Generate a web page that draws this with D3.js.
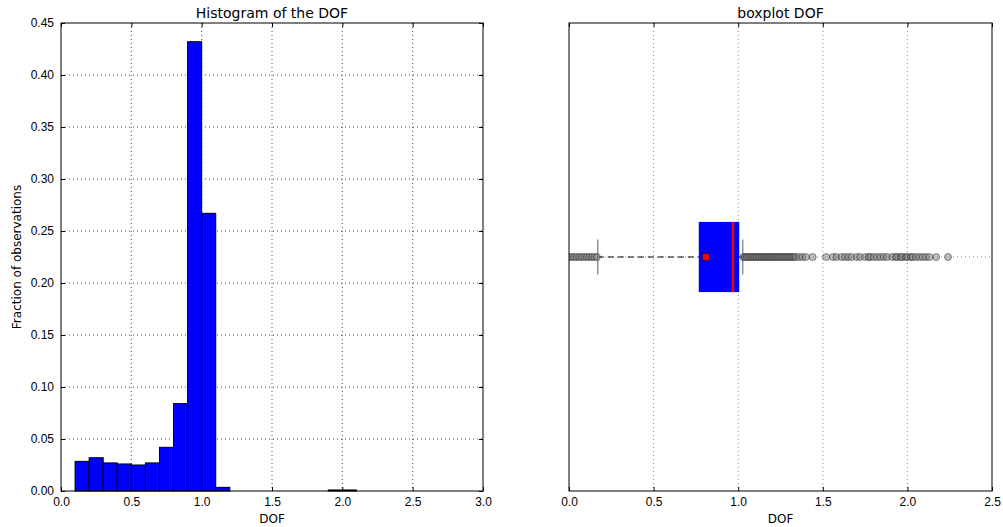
<!DOCTYPE html>
<html>
<head>
<meta charset="utf-8">
<title>DOF histogram and boxplot</title>
<script src="https://cdn.jsdelivr.net/npm/d3@7"></script>
<style>
	body { margin: 0; background: #fff; }
	svg { font-family: "DejaVu Sans", sans-serif; }
	.tick text { font-size: 12px; fill: #000; }
</style>
</head>
<body>
<svg width="1003" height="527" id="chart"></svg>
<script>
// histogram: bin starts (width 0.1) and fraction of observations
var binStarts = [0.1, 0.2, 0.3, 0.4, 0.5, 0.6, 0.7, 0.8, 0.9, 1.0, 1.1, 1.9, 2.0]
var binFractions = [0.0285, 0.032, 0.027, 0.026, 0.025, 0.027, 0.042, 0.084, 0.432, 0.267, 0.0035, 0.001, 0.001]
var binWidth = 0.1

var histXTicks = [0, 0.5, 1.0, 1.5, 2.0, 2.5, 3.0]
var histYTicks = [0, 0.05, 0.10, 0.15, 0.20, 0.25, 0.30, 0.35, 0.40, 0.45]
var boxXTicks = [0, 0.5, 1.0, 1.5, 2.0, 2.5]

// boxplot stats
var q1 = 0.767, median = 0.969, q3 = 1.006, mean = 0.81
var whiskerLow = 0.17, whiskerHigh = 1.027
var fliersLow = [0.0, 0.015, 0.03, 0.045, 0.06, 0.075, 0.09, 0.105, 0.12, 0.135, 0.15, 0.165]
var fliersHigh = [1.03, 1.04, 1.05, 1.06, 1.07, 1.08, 1.09, 1.10, 1.11, 1.12, 1.13, 1.14, 1.15, 1.16,
	1.17, 1.18, 1.19, 1.20, 1.21, 1.22, 1.23, 1.24, 1.25, 1.26, 1.27, 1.28, 1.29, 1.30, 1.31, 1.32,
	1.33, 1.34, 1.36, 1.38, 1.40, 1.44, 1.52, 1.56, 1.58, 1.61, 1.63, 1.65, 1.67, 1.70, 1.72, 1.75,
	1.77, 1.78, 1.80, 1.82, 1.84, 1.86, 1.88, 1.91, 1.93, 1.94, 1.96, 1.97, 1.99, 2.00, 2.02, 2.03,
	2.05, 2.07, 2.09, 2.11, 2.13, 2.17, 2.24]

var svg = d3.select('#chart')
var top_y = 23, bottom_y = 491

// draws frame, grid, inside ticks on all sides
function drawFrame(g, x, y, xTicks, yTicks, fmtX, fmtY, showY, gridOpacity) {
	var x0 = x.range()[0], x1 = x.range()[1]
	// grid
	g.append('g').selectAll('line').data(xTicks.slice(1, -1)).enter().append('line')
		.attr('x1', function(d) { return x(d) }).attr('x2', function(d) { return x(d) })
		.attr('y1', top_y).attr('y2', bottom_y)
		.attr('stroke', '#000').attr('stroke-opacity', gridOpacity).attr('stroke-dasharray', '1,3')
	g.append('g').selectAll('line').data(yTicks.slice(1, -1)).enter().append('line')
		.attr('y1', function(d) { return y(d) }).attr('y2', function(d) { return y(d) })
		.attr('x1', x0).attr('x2', x1)
		.attr('stroke', '#000').attr('stroke-opacity', gridOpacity).attr('stroke-dasharray', '1,3')

	g.append('g').attr('transform', 'translate(0,' + bottom_y + ')')
		.call(d3.axisBottom(x).tickValues(xTicks).tickFormat(fmtX).tickSizeInner(-4).tickSizeOuter(0).tickPadding(6))
		.call(function(a) { a.select('.domain').remove() })
	g.append('g').attr('transform', 'translate(0,' + top_y + ')')
		.call(d3.axisTop(x).tickValues(xTicks).tickFormat('').tickSizeInner(-4).tickSizeOuter(0))
		.call(function(a) { a.select('.domain').remove() })
	if (showY) {
		g.append('g').attr('transform', 'translate(' + x0 + ',0)')
			.call(d3.axisLeft(y).tickValues(yTicks).tickFormat(fmtY).tickSizeInner(-4).tickSizeOuter(0).tickPadding(7))
			.call(function(a) { a.select('.domain').remove() })
		g.append('g').attr('transform', 'translate(' + x1 + ',0)')
			.call(d3.axisRight(y).tickValues(yTicks).tickFormat('').tickSizeInner(-4).tickSizeOuter(0))
			.call(function(a) { a.select('.domain').remove() })
	}
}

function drawBorder(g, x) {
	var x0 = x.range()[0], x1 = x.range()[1]
	g.append('rect').attr('x', x0).attr('y', top_y).attr('width', x1 - x0).attr('height', bottom_y - top_y)
		.attr('fill', 'none').attr('stroke', '#000').attr('stroke-width', 1)
}

// ---- left: histogram ----
var hx = d3.scaleLinear().domain([0, 3]).range([61, 483])
var hy = d3.scaleLinear().domain([0, 0.45]).range([bottom_y, top_y])
var left = svg.append('g')

var histData = binStarts.map(function(s, i) { return {start: s, frac: binFractions[i]} })
drawFrame(left, hx, hy, histXTicks, histYTicks, d3.format('.1f'), d3.format('.2f'), true, 0.7)

left.append('g').selectAll('rect').data(histData).enter().append('rect')
	.attr('x', function(d) { return hx(d.start) })
	.attr('y', function(d) { return hy(d.frac) })
	.attr('width', function(d) { return hx(d.start + binWidth) - hx(d.start) })
	.attr('height', function(d) { return hy(0) - hy(d.frac) })
	.attr('fill', '#0000ff').attr('stroke', '#000').attr('stroke-width', 1)
drawBorder(left, hx)

left.append('text').attr('x', (61 + 483) / 2).attr('y', 18).attr('text-anchor', 'middle')
	.attr('font-size', 14).text('Histogram of the DOF')
left.append('text').attr('x', (61 + 483) / 2).attr('y', 523).attr('text-anchor', 'middle')
	.attr('font-size', 12).text('DOF')
left.append('text').attr('transform', 'translate(21,' + ((top_y + bottom_y) / 2) + ') rotate(-90)')
	.attr('text-anchor', 'middle').attr('font-size', 12).text('Fraction of observations')

// ---- right: boxplot ----
var bx = d3.scaleLinear().domain([0, 2.5]).range([569, 992])
var by = d3.scaleLinear().domain([1.5, 0.5]).range([bottom_y, top_y])
var right = svg.append('g')
drawFrame(right, bx, by, boxXTicks, [0.5, 1, 1.5], d3.format('.1f'), null, false, 0.45)

svg.append('clipPath').attr('id', 'box-clip').append('rect')
	.attr('x', bx(0)).attr('y', top_y).attr('width', bx(2.5) - bx(0)).attr('height', bottom_y - top_y)
var plot = right.append('g').attr('clip-path', 'url(#box-clip)')

var half = 0.075
// whiskers
plot.append('line').attr('x1', bx(whiskerLow)).attr('x2', bx(q1)).attr('y1', by(1)).attr('y2', by(1))
	.attr('stroke', '#000').attr('stroke-dasharray', '6,4')
plot.append('line').attr('x1', bx(q3)).attr('x2', bx(whiskerHigh)).attr('y1', by(1)).attr('y2', by(1))
	.attr('stroke', '#000').attr('stroke-dasharray', '6,4')
// box
plot.append('rect').attr('x', bx(q1)).attr('y', by(1 - half))
	.attr('width', bx(q3) - bx(q1)).attr('height', by(1 + half) - by(1 - half))
	.attr('fill', '#0000ff')
// caps
plot.selectAll('.cap').data([whiskerLow, whiskerHigh]).enter().append('line')
	.attr('x1', function(d) { return bx(d) }).attr('x2', function(d) { return bx(d) })
	.attr('y1', by(1 - half / 2)).attr('y2', by(1 + half / 2))
	.attr('stroke', '#777').attr('stroke-width', 1.2)
// fliers
plot.append('g').selectAll('circle').data(fliersLow.concat(fliersHigh)).enter().append('circle')
	.attr('cx', function(d) { return bx(d) }).attr('cy', by(1)).attr('r', 3.5)
	.attr('fill', '#808080').attr('fill-opacity', 0.5)
	.attr('stroke', '#000').attr('stroke-opacity', 0.5).attr('stroke-width', 0.8)
// median
plot.append('line').attr('x1', bx(median)).attr('x2', bx(median))
	.attr('y1', by(1 - half)).attr('y2', by(1 + half))
	.attr('stroke', '#ff0000').attr('stroke-width', 2.5)
// mean
plot.append('rect').attr('x', bx(mean) - 3.5).attr('y', by(1) - 3.5).attr('width', 7).attr('height', 7)
	.attr('fill', '#ff0000').attr('stroke', '#000').attr('stroke-width', 0.5)
drawBorder(right, bx)

right.append('text').attr('x', (569 + 992) / 2).attr('y', 18).attr('text-anchor', 'middle')
	.attr('font-size', 14).text('boxplot DOF')
right.append('text').attr('x', (569 + 992) / 2).attr('y', 523).attr('text-anchor', 'middle')
	.attr('font-size', 12).text('DOF')
</script>
</body>
</html>
